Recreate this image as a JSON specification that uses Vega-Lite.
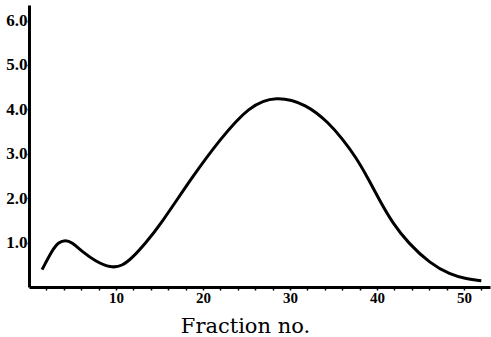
{
  "$schema": "https://vega.github.io/schema/vega-lite/v6.json",
  "width": 461,
  "height": 282,
  "autosize": {"type": "none"},
  "padding": {"left": 29, "top": 5, "right": 1, "bottom": 50},
  "background": "white",
  "config": {"view": {"stroke": null}},
  "data": {"values": [
    {"fraction": 1.5, "value": 0.39},
    {"fraction": 2.7, "value": 0.84},
    {"fraction": 3.4, "value": 1.01},
    {"fraction": 4.2, "value": 1.06},
    {"fraction": 4.9, "value": 1.01},
    {"fraction": 6.1, "value": 0.80},
    {"fraction": 7.7, "value": 0.57},
    {"fraction": 9.4, "value": 0.43},
    {"fraction": 10.7, "value": 0.47},
    {"fraction": 11.9, "value": 0.66},
    {"fraction": 13.4, "value": 0.99},
    {"fraction": 15.1, "value": 1.40},
    {"fraction": 18.8, "value": 2.49},
    {"fraction": 21.9, "value": 3.31},
    {"fraction": 25.3, "value": 4.08},
    {"fraction": 28.4, "value": 4.31},
    {"fraction": 31.9, "value": 4.12},
    {"fraction": 34.5, "value": 3.69},
    {"fraction": 36.0, "value": 3.34},
    {"fraction": 37.6, "value": 2.92},
    {"fraction": 39.0, "value": 2.44},
    {"fraction": 40.3, "value": 1.95},
    {"fraction": 41.8, "value": 1.44},
    {"fraction": 43.6, "value": 0.99},
    {"fraction": 46.1, "value": 0.53},
    {"fraction": 48.4, "value": 0.28},
    {"fraction": 50.3, "value": 0.18},
    {"fraction": 52.0, "value": 0.14}
  ]},
  "mark": {"type": "line", "color": "black", "strokeWidth": 3, "interpolate": "basis"},
  "encoding": {
    "x": {
      "field": "fraction", "type": "quantitative",
      "scale": {"domain": [0, 53], "nice": false, "zero": false},
      "axis": {
        "values": [2,4,6,8,10,12,14,16,18,20,22,24,26,28,30,32,34,36,38,40,42,44,46,48,50,52],
        "labelExpr": "datum.value % 10 == 0 ? datum.label : ''",
        "grid": false,
        "domainColor": "black", "domainWidth": 3,
        "tickColor": "black", "tickSize": 3, "tickWidth": 1.5,
        "labelFont": "Liberation Serif", "labelFontWeight": "bold", "labelFontSize": 15, "labelColor": "black",
        "labelPadding": 0,
        "title": "Fraction no.",
        "titleFont": "DejaVu Serif", "titleFontWeight": "normal", "titleFontSize": 21, "titleColor": "black",
        "titleX": 216, "titleY": 45, "titleBaseline": "alphabetic"
      }
    },
    "y": {
      "field": "value", "type": "quantitative",
      "scale": {"domain": [0, 6.35], "nice": false, "zero": true},
      "axis": {
        "values": [1, 2, 3, 4, 5, 6],
        "format": ".1f",
        "grid": false,
        "domainColor": "black", "domainWidth": 3,
        "tickColor": "black", "tickSize": 2, "tickWidth": 1.5,
        "labelFont": "Liberation Serif", "labelFontWeight": "bold", "labelFontSize": 17, "labelColor": "black",
        "labelPadding": 0,
        "title": null
      }
    }
  }
}
